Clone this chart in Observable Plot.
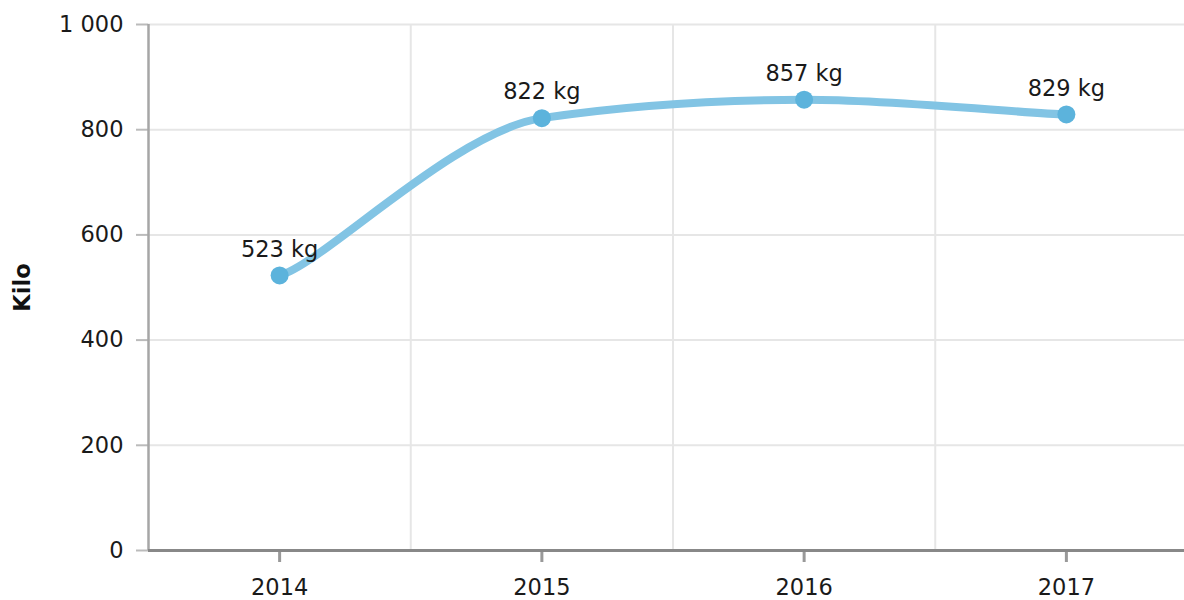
<!DOCTYPE html>
<html>
<head>
<meta charset="utf-8">
<script src="https://cdn.jsdelivr.net/npm/d3@7"></script>
<script src="https://cdn.jsdelivr.net/npm/@observablehq/plot@0.6"></script>
<style>
  html, body { margin: 0; padding: 0; background: #fff; }
  #chart svg { display: block; }
</style>
</head>
<body>
<div id="chart"></div>
<script>
const years = [2014, 2015, 2016, 2017];
const kilos = [523, 822, 857, 829];
const yTicks = [0, 200, 400, 600, 800, 1000];
const yLabel = "Kilo";
const unit = "kg";

const data = years.map((y, i) => ({year: y, value: kilos[i]}));
const boundaries = years.slice(1).map(y => y - 0.5);
const fmt = d => d3.format(",")(d).replace(/,/g, " ");
const font = "DejaVu Sans, Verdana, sans-serif";
const fs = 22.5;

// Tension spline (separate x / y smoothing), drawn in pixel space
function tensionCurve(kx, ky) {
  return function(context) {
    let pts;
    return {
      areaStart() {}, areaEnd() {},
      lineStart() { pts = []; },
      point(x, y) { pts.push([+x, +y]); },
      lineEnd() {
        const n = pts.length;
        if (!n) return;
        context.moveTo(pts[0][0], pts[0][1]);
        for (let i = 0; i < n - 1; i++) {
          const p0 = pts[Math.max(0, i - 1)], p1 = pts[i], p2 = pts[i + 1], p3 = pts[Math.min(n - 1, i + 2)];
          context.bezierCurveTo(
            p1[0] + (p2[0] - p0[0]) * kx, p1[1] + (p2[1] - p0[1]) * ky,
            p2[0] - (p3[0] - p1[0]) * kx, p2[1] - (p3[1] - p1[1]) * ky,
            p2[0], p2[1]);
        }
      }
    };
  };
}

const chart = Plot.plot({
  width: 1184,
  height: 600,
  marginLeft: 148,
  marginRight: -13,
  marginTop: 24,
  marginBottom: 50,
  style: {fontFamily: font, fontSize: fs + "px", color: "#222", background: "#fff"},
  x: {domain: [years[0] - 0.5, years[years.length - 1] + 0.5], axis: null},
  y: {domain: [0, 1000], axis: null},
  marks: [
    Plot.ruleY(yTicks.slice(1), {stroke: "#e6e6e6", strokeWidth: 2}),
    Plot.ruleX(boundaries, {stroke: "#e6e6e6", strokeWidth: 2}),
    Plot.axisY({ticks: yTicks, tickFormat: fmt, tickSize: 12, tickPadding: 13, stroke: "#bbb", strokeWidth: 2, fill: "#1a1a1a", fontSize: fs, label: null}),
    Plot.axisX({ticks: years, tickFormat: d => String(d), tickSize: 12, tickPadding: 17, stroke: "#999", strokeWidth: 3, fill: "#1a1a1a", fontSize: fs, label: null}),
    Plot.ruleX([years[0] - 0.5], {stroke: "#a6a6a6", strokeWidth: 2.5}),
    Plot.ruleY([0], {stroke: "#888", strokeWidth: 3}),
    Plot.line(data, {x: "year", y: "value", curve: tensionCurve(1 / 6, 0.074), stroke: "#82c4e4", strokeWidth: 8, strokeLinecap: "round"}),
    Plot.dot(data, {x: "year", y: "value", r: 9, fill: "#5cb3dc", stroke: "none"}),
    Plot.text(data, {x: "year", y: "value", text: d => `${d.value} ${unit}`, dy: -26, fill: "#1a1a1a", fontSize: fs, textAnchor: "middle", lineAnchor: "middle"}),
    Plot.text([yLabel], {frameAnchor: "left", dx: -126, rotate: -90, fontWeight: "bold", fontSize: fs, fill: "#111", textAnchor: "middle"})
  ]
});
document.getElementById("chart").appendChild(chart);
</script>
</body>
</html>
